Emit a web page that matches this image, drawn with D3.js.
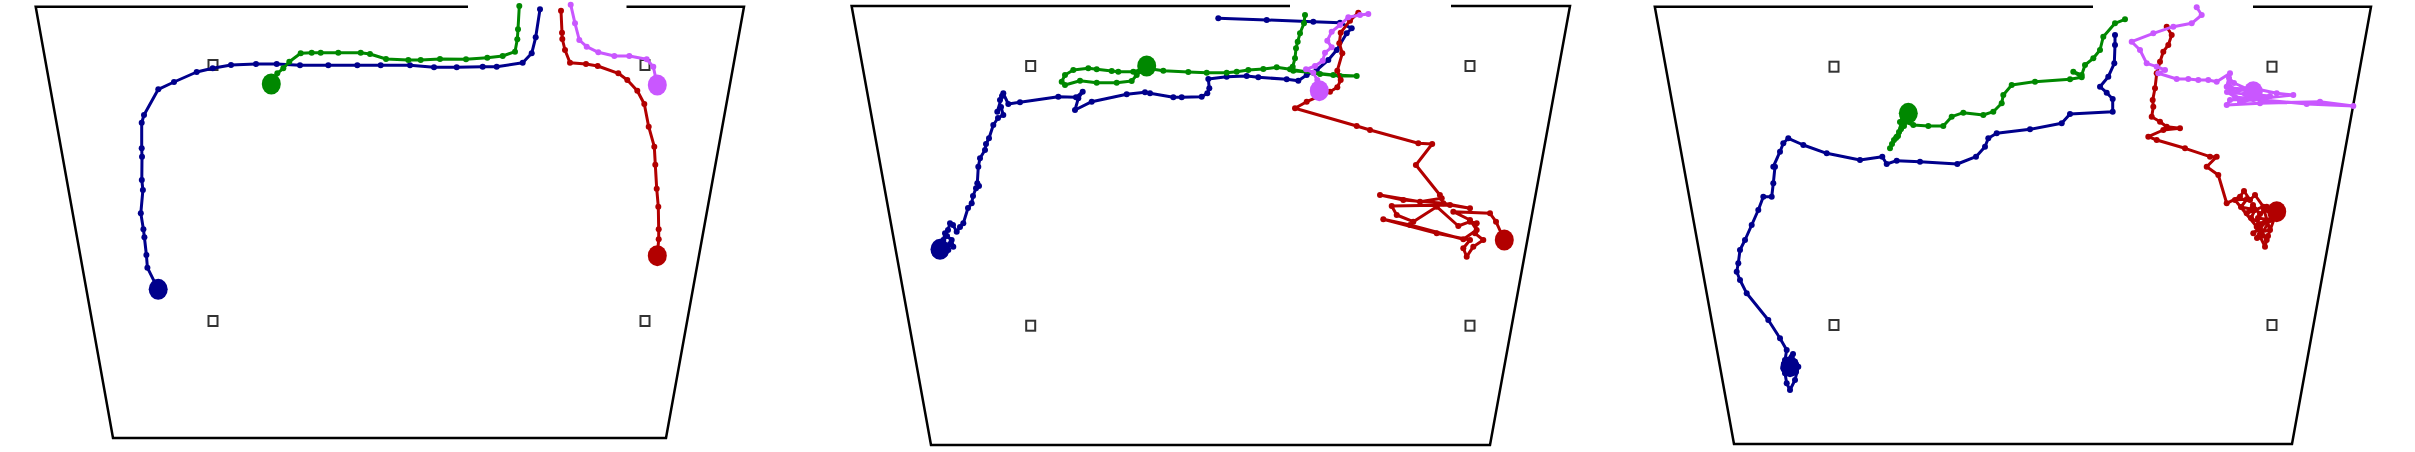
<!DOCTYPE html>
<html>
<head>
<meta charset="utf-8">
<script src="https://cdn.jsdelivr.net/npm/d3@7"></script>
<style>
  html, body { margin: 0; padding: 0; background: #fff; }
  svg { display: block; }
</style>
</head>
<body>
<svg id="chart" width="2415" height="452"></svg>
<script>
// ---------- DATA (arena tracking units, one frame per panel) ----------
const seriesNames = ["blue", "green", "red", "magenta"];
const seriesColors = { blue: "#00008c", green: "#008800", red: "#b20000", magenta: "#c957ff" };

// Panel 1
const p1Trap = [[35.7, 6.7], [744, 6.7], [666, 438], [113, 438]];
const p1Gap = [468, 626.5];
const p1Squares = [[213, 65], [645, 65], [213, 321], [645, 321]];
const p1Blue = [[540,9.3],[535.7,37.3],[531.7,53.3],[522.7,62.7],[496.7,66.7],[482.7,66.7],[456.7,67.3],[434,67.3],[410,65.3],[380.7,65.3],[357.3,65.3],[328.3,65.3],[300,65.3],[276.7,64],[256,64],[231,65],[212.7,68.3],[196.7,72],[174,82],[158.3,89.3],[144,115],[141.7,122.7],[141.7,148.3],[142,156.7],[141.8,180],[142.9,190],[140.8,213.3],[143.4,229.3],[144.4,237.3],[146.4,255],[147.4,267.7],[158.2,289.3]];
const p1Green = [[519.3,6],[518,29.3],[517.3,39.3],[515,51.7],[502.7,56],[487.3,57.7],[466,59.3],[440,59],[420.7,60],[408.3,60],[386,59],[370,54],[360.7,52.7],[338.3,52.7],[320.7,52.7],[311.7,52.7],[300.7,53.3],[289.3,61.7],[283.3,68.3],[277.3,73.3],[271.3,84]];
const p1Red = [[561,10.7],[562,32.7],[562.3,39],[565,50],[570,62.7],[586,64],[597.7,66],[618.3,73.3],[627.3,80],[637.3,90.7],[644.3,104],[648.7,126.7],[654.3,146.7],[655.3,164.7],[656.7,188.7],[658.3,206.7],[658.7,229.3],[658.7,239.3],[657.3,255.7]];
const p1Magenta = [[570.7,4.7],[575,23.3],[579.3,40],[586.7,46.7],[598.3,52.3],[614.3,56],[629.3,56],[646.7,59.3],[653.3,66.7],[657.3,85]];

// Panel 2
const p2Trap = [[31.6, 6], [750, 6], [670, 445], [111, 445]];
const p2Gap = [470, 631];
const p2Squares = [[210.7, 66], [650, 66], [210.7, 325.7], [650, 325.7]];
const p2Blue = [[398.3,18.3],[446.7,20],[493.3,21.7],[520,22.7],[531.7,28.3],[526.7,33.3],[516.7,50],[508.3,60],[496.7,70],[486.7,75],[478.3,80.7],[466.7,79.3],[438.3,77.3],[426.7,76],[406.7,76.7],[388.3,79],[389.3,88.3],[387.3,93.3],[381.7,96.7],[361.7,97.3],[353.3,97.3],[330,93.3],[325,92.3],[306.7,94.3],[271.7,101.7],[255,110],[258.3,98.3],[262.7,91.7],[256,97.3],[238.3,96.7],[200,102.3],[188.3,104],[183.3,93.3],[180,100],[182,96],[177.3,111.7],[181,107],[183.3,115],[178,118],[173.3,125],[169,138.3],[166,144],[165,150],[160,158.3],[158.3,166.7],[157.3,183.3],[159,186],[156,188.3],[153,196],[151.7,203.3],[148,208],[143.3,223.3],[140,227],[136.7,231.7],[133,225],[130,223.3],[128,230],[125,233.3],[123.3,240],[127,236],[131.7,240],[133.3,246.7],[130,244],[128.3,250],[125,247],[120,249.3]];
const p2Green = [[485,15],[484,23.3],[480,33.3],[477.7,41.7],[476,48.3],[475,58.3],[472.7,66.7],[473.3,70.7],[493.3,72.7],[513.3,75],[536.7,76],[520,76],[500,74],[470,69.3],[456.7,67.3],[443.3,69],[428.3,70],[416.7,71.7],[406.7,72.7],[386.7,72.7],[368.3,72],[343.3,70.7],[326.7,68.3],[313.3,71.7],[298.3,71.7],[291.7,71],[276.7,69.3],[268.3,68.3],[253.3,70],[245,75],[241.7,81.7],[245,85],[260,80.7],[276.7,82.7],[296.7,82.7],[311.7,81],[316.7,75],[326.7,66]];
const p2Red = [[538.3,12.7],[530,20.7],[520.7,32.7],[519.3,43.3],[522.3,53.3],[517.3,70.7],[520.7,80],[517.3,87.3],[510,91.7],[486.7,101.7],[475,108.3],[536.7,126],[550,130],[598.3,143.3],[612.2,144],[595.9,165],[619.9,195],[621.7,198.3],[600,201.7],[560,195],[583.3,200],[623.3,203.3],[650,208.3],[630,205],[571.7,206],[576.7,215],[593.3,221.7],[616.7,206.7],[638.3,226],[650,221.7],[656.7,223.3],[655,233.3],[663.3,240],[653.3,246.7],[646.7,256.7],[643.3,248.3],[650,240],[616.7,233.3],[563.3,219.3],[590,225],[643.3,239.3],[656.7,230],[650,220],[633.3,211.7],[670,213.3],[676,221.7],[684.3,240]];
const p2Magenta = [[548.3,14],[540,15],[528.3,17.3],[520,25],[511.7,31.7],[507.3,40.7],[511.7,47.3],[505,52.7],[502.7,60.7],[495,66],[486,69.3],[493.3,72.7],[497.3,80],[499.3,90.7]];

// Panel 3
const p3Trap = [[39.8, 6.7], [756, 6.7], [677, 444], [119, 444]];
const p3Gap = [478, 638];
const p3Squares = [[219, 66.7], [657, 66.7], [219, 325], [657, 325]];
const p3Blue = [[500,35],[500,45],[499.3,63.3],[493.3,76.7],[485,86.7],[491.7,92.7],[497.7,99],[497.7,111.7],[455,114],[446.7,123.3],[415,129.3],[381.7,133.3],[373.3,138.3],[370,146.7],[361,156.7],[342.3,164],[305,161.7],[281.7,160.7],[271.7,164],[267.3,156.7],[245,160],[211.7,153.3],[188.3,145],[173.3,138.3],[168.3,143.3],[165,151.7],[158.3,166.7],[160,166.7],[158.3,183.3],[156.7,196.7],[148.3,196.7],[143.3,210],[136.7,225],[130,240],[125,250],[123.3,263.3],[121.7,271.7],[125,280],[131.7,293.3],[153.3,320],[165,338.3],[171.7,350],[170,360],[168.3,368.3],[176.7,356.7],[183.3,366.7],[180,380],[175,390],[171.7,383.3],[170,373.3],[174,360],[180,362],[172,366],[181,372],[169,364],[178,354],[175,366.7]];
const p3Green = [[510,19.3],[500,23.3],[488.3,36.7],[485,50],[478.3,58.3],[470,65],[466.7,75],[458.3,71.7],[466.7,77.3],[455,79.3],[420,81.7],[396.7,85],[388.3,95],[386.7,103.3],[378.3,111.7],[368.3,115],[348.3,112.7],[336.7,116.7],[328.3,126],[313.3,126],[298.3,125],[290,122],[286.7,126.7],[281.7,136.7],[275,148.3],[279,140],[284,132],[287,124],[291,118],[286,129],[281,138],[277,144],[283,136],[289,126],[292,120],[285,122],[288,116],[294,117],[288,121],[293.3,113.3]];
const p3Red = [[551.7,26.7],[556.7,35],[553.3,45],[548.3,51.7],[545,61.7],[541.7,73.3],[540,88.3],[537.7,100],[538.3,106.7],[536.7,116.7],[545,121.7],[551.7,126.7],[565,128.3],[548.3,130],[533.3,136.7],[541.7,140],[570,148.3],[595,156.7],[601.7,156.7],[591.7,166.7],[603.3,175],[611.7,203.3],[625,196.7],[629,191],[635,200],[640,195],[648.3,206.7],[631.7,213.3],[638,205],[645,214],[641.7,226.7],[650,222],[638.3,233.3],[645,228],[651.7,240],[650,246.7],[645,236.7],[655,220],[643,218],[651.7,206.7],[658,214],[649,210],[655,230],[646,232],[620,200],[632,199],[626,207],[640,210],[636,218],[647,224],[642,238],[653,236],[661.7,211.7]];
const p3Magenta = [[581.7,7.3],[586.7,15],[576.7,23.3],[558.3,26.7],[538.3,33.3],[516.7,41.7],[525,50],[531.7,63.3],[541.7,66.7],[550,70],[543.3,73.3],[561.7,79],[573.3,79],[583.3,80],[593.3,80],[601.7,81.7],[615,73.3],[611.7,86.7],[618.3,91.7],[638.3,88.3],[661.7,93.3],[678.3,95],[648.3,98.3],[615,100],[611.7,105],[645,103.3],[705,101.7],[738.3,106],[691.7,104],[648.3,100],[620,97],[612,92],[630,94],[655,96],[625,102],[640,90],[616,88],[614,78],[619,83],[638.3,91.7]];

const panelOffsets = [0, 820, 1615];

const panels = [
  { trap: p1Trap, gap: p1Gap, squares: p1Squares, series: { blue: p1Blue, green: p1Green, red: p1Red, magenta: p1Magenta } },
  { trap: p2Trap, gap: p2Gap, squares: p2Squares, series: { blue: p2Blue, green: p2Green, red: p2Red, magenta: p2Magenta } },
  { trap: p3Trap, gap: p3Gap, squares: p3Squares, series: { blue: p3Blue, green: p3Green, red: p3Red, magenta: p3Magenta } }
];

// ---------- DRAW ----------
const svg = d3.select("#chart");

panels.forEach((p, i) => {
  const off = panelOffsets[i];
  const x = d3.scaleLinear().domain([0, 800]).range([off, off + 800]);
  const y = d3.scaleLinear().domain([0, 452]).range([0, 452]);
  const g = svg.append("g");

  const [tl, tr, br, bl] = p.trap;
  const outline = [[p.gap[0], tl[1]], tl, bl, br, tr, [p.gap[1], tr[1]]];
  const lineGen = d3.line().x(d => x(d[0])).y(d => y(d[1]));
  g.append("path")
    .attr("d", lineGen(outline))
    .attr("fill", "none")
    .attr("stroke", "#000")
    .attr("stroke-width", 2.5)
    .attr("stroke-linejoin", "miter");

  g.selectAll("rect.sq").data(p.squares).join("rect")
    .attr("class", "sq")
    .attr("x", d => x(d[0]) - 4.5)
    .attr("y", d => y(d[1]) - 5)
    .attr("width", 9)
    .attr("height", 10)
    .attr("fill", "#fff")
    .attr("stroke", "#333")
    .attr("stroke-width", 2);

  seriesNames.forEach(name => {
    const pts = p.series[name];
    const col = seriesColors[name];
    const sg = g.append("g");
    sg.append("path")
      .attr("d", lineGen(pts))
      .attr("fill", "none")
      .attr("stroke", col)
      .attr("stroke-width", 3)
      .attr("stroke-linejoin", "round")
      .attr("stroke-linecap", "round");
    sg.selectAll("circle.pt").data(pts).join("circle")
      .attr("class", "pt")
      .attr("cx", d => x(d[0]))
      .attr("cy", d => y(d[1]))
      .attr("r", 3)
      .attr("fill", col);
    const last = pts[pts.length - 1];
    sg.append("ellipse")
      .attr("cx", x(last[0]))
      .attr("cy", y(last[1]))
      .attr("rx", 9.5)
      .attr("ry", 10.5)
      .attr("fill", col);
  });
});
</script>
</body>
</html>
